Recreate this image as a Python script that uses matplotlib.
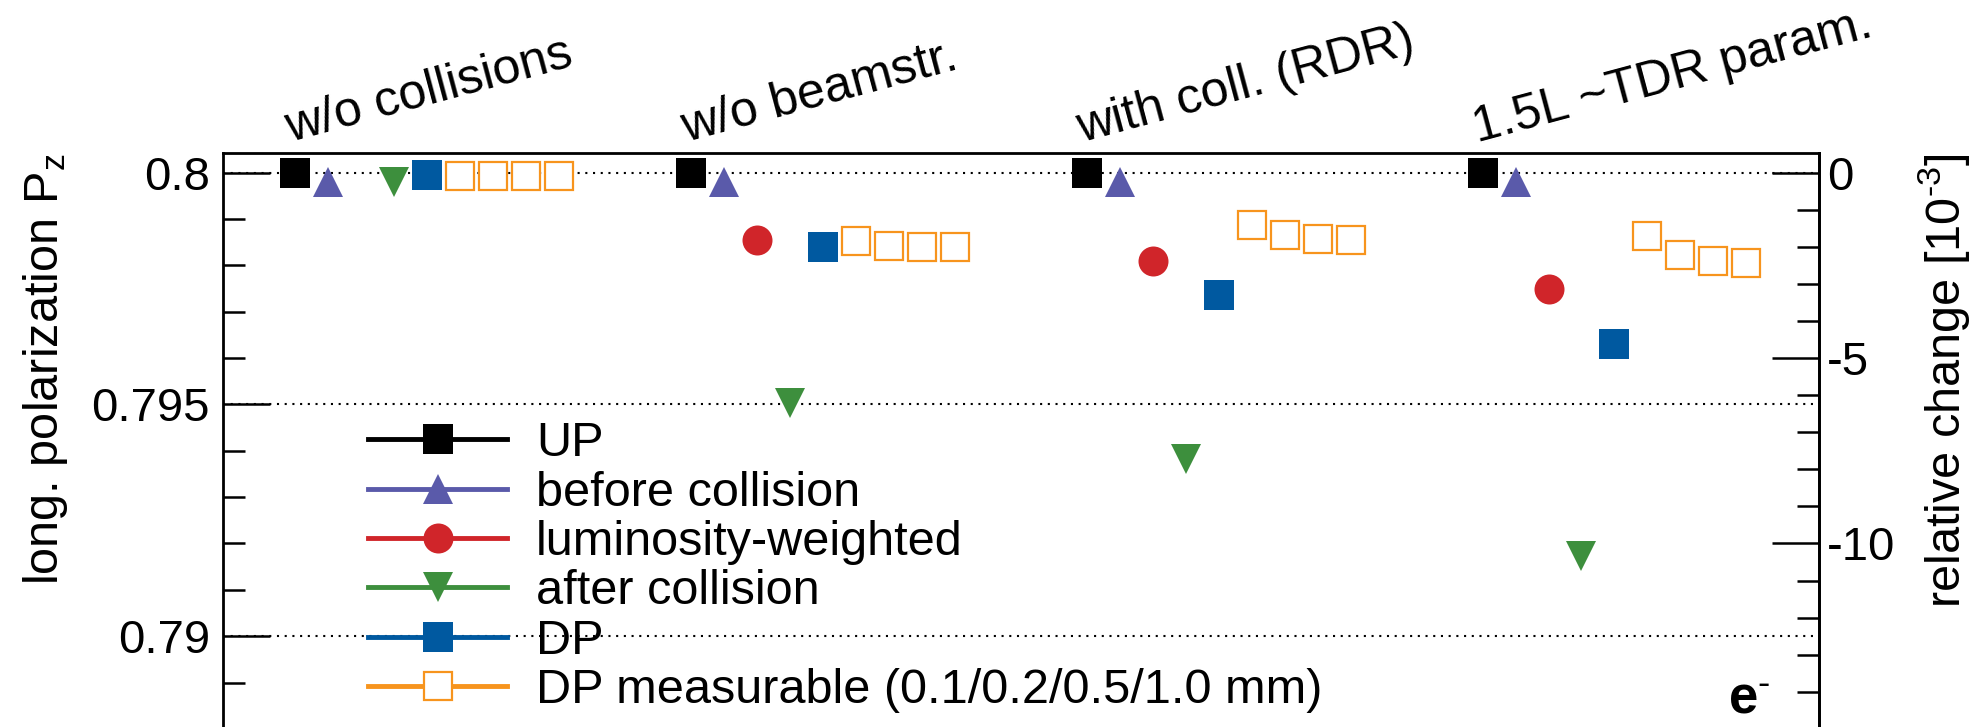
import numpy as np
import matplotlib
matplotlib.use('Agg')
from matplotlib import pyplot as plt
from matplotlib.lines import Line2D
from matplotlib.ticker import MultipleLocator, FuncFormatter

plt.rcParams['font.family'] = ['Liberation Sans', 'DejaVu Sans']
plt.rcParams['mathtext.fontset'] = 'custom'
plt.rcParams['mathtext.rm'] = 'Liberation Sans'
plt.rcParams['mathtext.it'] = 'Liberation Sans:italic'
plt.rcParams['mathtext.bf'] = 'Liberation Sans:bold'
plt.rcParams['axes.unicode_minus'] = False

groups = ['w/o collisions', 'w/o beamstr.', 'with coll. (RDR)', '1.5L ~TDR param.']

up = [0.8, 0.8, 0.8, 0.8]
before = [0.7998, 0.7998, 0.7998, 0.7998]
lumi = [np.nan, 0.79854, 0.79810, 0.79750]
after = [0.7998, 0.79503, 0.79382, 0.79174]
dp = [0.79995, 0.79840, 0.79737, 0.79630]
dp_meas = [
    [0.79993, 0.79993, 0.79993, 0.79993],
    [0.79852, 0.79841, 0.79840, 0.79839],
    [0.79888, 0.79865, 0.79858, 0.79854],
    [0.79863, 0.79822, 0.79810, 0.79806],
]

rel_major = [0, -5, -10]

labels = ['UP', 'before collision', 'luminosity-weighted', 'after collision',
          'DP', 'DP measurable (0.1/0.2/0.5/1.0 mm)']
colors = ['#000000', '#5a5aaa', '#d0252a', '#3d8f3d', '#0059a0', '#f7941d']
markers = ['s', '^', 'o', 'v', 's', 's']

ms = 21.6
fs = 35

fig = plt.figure(figsize=(19.73, 7.27), dpi=100)
ax = fig.add_axes([0.1130, 0.0, 0.8089, 0.7891])

base = 12 * np.arange(len(groups))
series = [up, before, lumi, after, dp]
for k, vals in enumerate(series):
    ax.plot(base + k, vals, ls='none', marker=markers[k], ms=ms, mew=0,
            color=colors[k], zorder=3)

meas = np.array(dp_meas)
for j in range(meas.shape[1]):
    ax.plot(base + 5 + j, meas[:, j], ls='none', marker='s', ms=20.7, mew=1.6,
            mfc='white', mec=colors[5], zorder=3)

ax.set_xlim(-2.2, 46.2)
ax.set_ylim(0.78804, 0.80042)
ax.set_xticks([])

ax.yaxis.set_major_locator(MultipleLocator(0.005))
ax.yaxis.set_minor_locator(MultipleLocator(0.001))
ax.yaxis.set_major_formatter(FuncFormatter(lambda v, p: '%g' % round(v, 4)))
ax.tick_params(axis='y', which='both', direction='in', right=False,
               labelsize=34, pad=9.5, width=1.8)
ax.tick_params(axis='y', which='major', length=34)
ax.tick_params(axis='y', which='minor', length=16)
ax.grid(axis='y', which='major', color='black', lw=1.5, ls=(0, (1, 2.7)))

for s in ['left', 'right', 'top']:
    ax.spines[s].set_linewidth(2.0)
ax.spines['bottom'].set_visible(False)


def to_rel(p):
    return (p / 0.8 - 1) * 1000


def from_rel(r):
    return 0.8 * (1 + r / 1000)


sec = ax.secondary_yaxis('right', functions=(to_rel, from_rel))
sec.set_yticks(rel_major)
sec.set_yticks(np.arange(-14, 1), minor=True)
sec.yaxis.set_major_formatter(FuncFormatter(lambda v, p: '%g' % round(v, 3)))
sec.tick_params(which='both', direction='in', labelsize=34, pad=6, width=1.8)
sec.tick_params(which='major', length=34)
sec.tick_params(which='minor', length=16)
sec.spines['right'].set_linewidth(2.0)

ax.set_ylabel(r'long. polarization P$_{\mathrm{z}}$', fontsize=fs, loc='top')
ax.yaxis.set_label_coords(-0.096, 1.0)
sec.set_ylabel(r'relative change [10$^{\text{-}3}$]', fontsize=fs, loc='top')
sec.yaxis.set_label_coords(1.061, 1.0, transform=ax.transAxes)

trans = ax.get_xaxis_transform()
for g, name in enumerate(groups):
    ax.text(base[g] - 0.15, 1.019, name, transform=trans, fontsize=36,
            rotation=15, rotation_mode='anchor', ha='left', va='baseline')

ax.text(0.943, 0.024, r'$\mathbf{e}^{\mathbf{\text{-}}}$', transform=ax.transAxes,
        fontsize=38, ha='left', va='baseline')

handles = []
for k in range(6):
    if k == 5:
        h = Line2D([], [], color=colors[k], lw=3.5, marker='s', ms=20.7,
                   mew=1.6, mfc='white', mec=colors[k])
    else:
        h = Line2D([], [], color=colors[k], lw=3.5, marker=markers[k], ms=ms,
                   mew=0)
    handles.append(h)
ax.legend(handles, labels, loc='upper left', bbox_to_anchor=(0.0909, 0.533),
          frameon=False, fontsize=fs, handlelength=2.86, handletextpad=0.6,
          labelspacing=0.09, borderpad=0, borderaxespad=0)

fig.savefig('out.png', dpi=100)
